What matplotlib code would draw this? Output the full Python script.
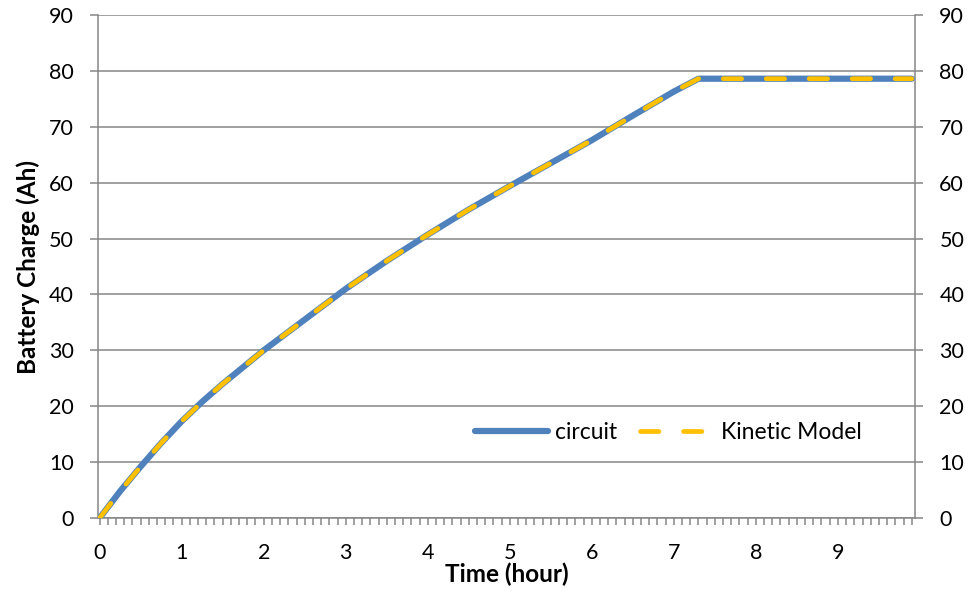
import matplotlib.pyplot as plt
import numpy as np

# values
time_h = [0, 0.25, 0.5, 0.75, 1, 1.25, 1.5, 2, 2.5, 3, 3.5, 4, 4.5, 5, 5.5, 6,
          6.5, 7, 7.3, 8, 9, 9.9]
circuit = [0, 4.8, 9.2, 13.4, 17.3, 20.8, 24.0, 30.0, 35.5, 41.0, 46.0, 50.7,
           55.2, 59.4, 63.5, 67.6, 72.0, 76.3, 78.6, 78.6, 78.6, 78.6]
kinetic = [0, 4.8, 9.2, 13.4, 17.3, 20.8, 24.0, 30.0, 35.5, 41.0, 46.0, 50.7,
           55.2, 59.4, 63.5, 67.6, 72.0, 76.3, 78.6, 78.6, 78.6, 78.6]
y_ticks = list(range(0, 91, 10))
x_labels = list(range(0, 10))

plt.rcParams['font.family'] = ['Lato', 'DejaVu Sans']
grey = '#868686'

fig = plt.figure(figsize=(9.73, 5.96), dpi=100)
ax = fig.add_axes([98 / 973, 1 - 518 / 596, 817 / 973, 503 / 596])

ax.plot(time_h, circuit, color='#4F81BD', lw=4.5, solid_capstyle='round',
        label='circuit', zorder=3)
ax.plot(time_h, kinetic, color='#FFC000', lw=3.4, linestyle=(0, (3.9, 5.2)),
        dash_capstyle='round', label='Kinetic Model', zorder=4)

ax.set_xlim(-0.02, 9.94)
ax.set_ylim(0, 90)
ax.set_yticks(y_ticks)
ax.set_xticks(x_labels)
ax.set_xticks(np.arange(0, 100) / 10, minor=True)
ax.yaxis.grid(True, color=grey, lw=1.1)
ax.set_axisbelow(True)

for side in ['left', 'right', 'bottom']:
    ax.spines[side].set_color(grey)
    ax.spines[side].set_linewidth(1.1)
ax.spines['top'].set_visible(False)

ax.tick_params(axis='y', which='major', direction='out', length=5.5, width=1.1,
               color=grey, labelsize=15.5, pad=12, right=True, labelright=True)
ax.tick_params(axis='x', which='both', direction='out', length=5, width=1.1,
               color=grey, labelsize=15.5, pad=13)

ax.set_xlabel('Time (hour)', fontsize=17.5, fontweight='bold', labelpad=0)
ax.set_ylabel('Battery Charge (Ah)', fontsize=17.5, fontweight='bold', labelpad=6)

ax.legend(loc='center', bbox_to_anchor=(0.698, 0.169), ncol=2, frameon=False,
          fontsize=16.5, handlelength=3.2, handletextpad=0.3, columnspacing=1.0)

fig.savefig('out.png', dpi=100)
